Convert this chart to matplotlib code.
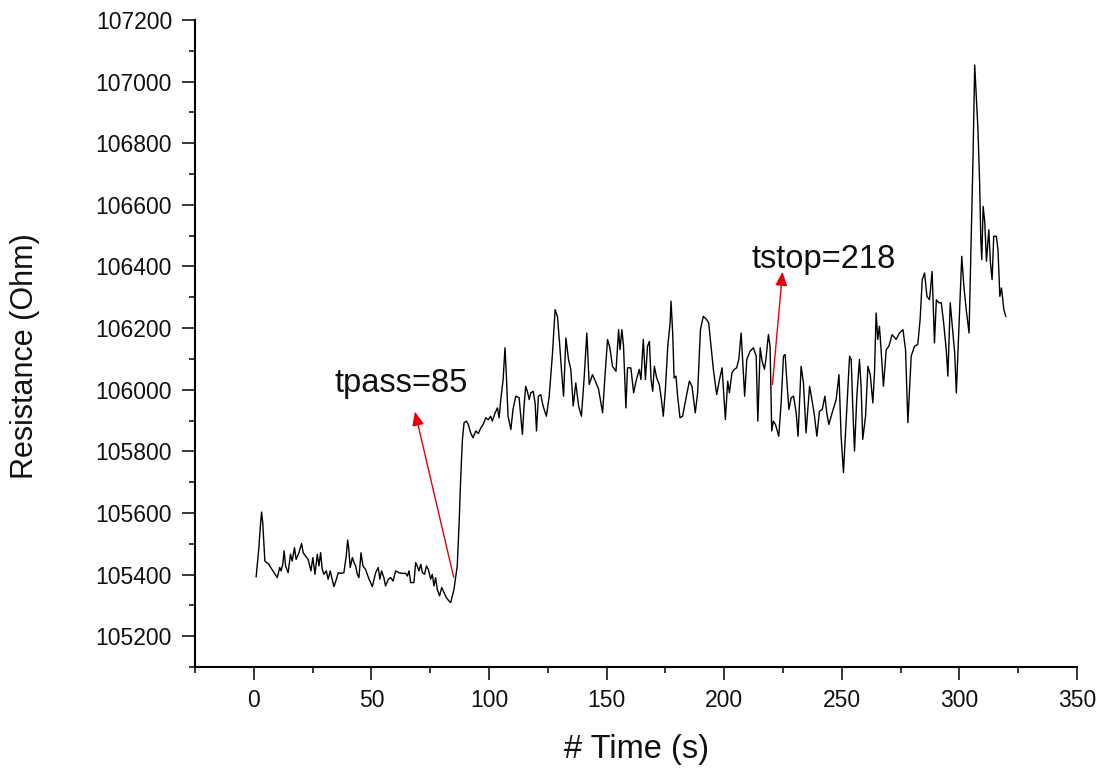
import matplotlib
matplotlib.use("Agg")
import matplotlib.pyplot as plt

plt.rcParams["font.family"] = ["Liberation Sans", "DejaVu Sans"]

# Resistance trace: time (s) and resistance (Ohm)
time_s = [
    1.0, 2.1, 2.8, 3.3, 3.8, 4.4, 4.7, 6.4, 8.1, 10.0, 11.0, 11.6, 12.3, 12.9, 13.5, 14.6,
    15.6, 16.3, 17.3, 18.0, 19.2, 20.3, 21.0, 22.0, 23.1, 24.3, 25.1, 26.0, 27.0, 27.7, 28.4,
    29.1, 29.8, 30.8, 31.6, 32.5, 33.3, 34.1, 35.1, 35.9, 36.9, 38.3, 39.3, 39.9, 40.4, 41.0,
    41.9, 42.6, 43.3, 44.0, 44.7, 45.6, 46.4, 47.5, 49.0, 50.4, 51.8, 52.9, 53.6, 54.3, 55.3,
    56.0, 57.2, 58.2, 59.2, 60.3, 61.7, 63.1, 64.6, 65.3, 66.0, 66.7, 68.1, 68.8, 69.5, 70.2,
    71.0, 71.7, 72.6, 73.4, 74.2, 75.2, 75.9, 76.6, 77.3, 78.0, 79.0, 79.9, 80.9, 81.9, 83.0,
    83.7, 84.4,
    85.1, 86.5, 87.3, 88.0, 88.7, 89.4, 90.4, 91.2, 92.2, 93.2, 94.4, 95.5, 96.5, 97.5, 98.6,
    99.7, 100.7, 101.4, 102.6, 103.6, 104.3, 105.0, 106.0, 106.8, 107.4, 108.1, 109.3, 110.2,
    111.4, 112.8, 114.2, 114.9, 115.6, 116.3, 117.1, 117.8, 118.8, 119.6, 120.2, 121.0, 122.0,
    123.0, 124.4, 125.6, 127.0, 128.1, 129.1, 130.1, 131.0, 131.7, 132.7, 133.8, 134.8, 135.8,
    136.9, 138.1, 139.3, 140.5, 141.6, 142.6, 144.0, 145.2, 146.6, 148.3, 149.4, 150.4, 151.4,
    152.5, 154.0, 155.1, 155.7, 156.5, 157.2, 158.2, 158.9, 160.3, 161.5, 162.5,
    163.9, 164.6, 165.6, 166.5, 167.4, 168.2, 168.9, 169.6, 170.3, 171.3, 172.4, 173.3, 174.1,
    175.0, 176.0, 177.0, 177.4, 178.1, 178.7, 179.5, 180.2, 181.2, 182.3, 183.8, 185.2, 186.3,
    187.7, 188.7, 189.9, 191.1, 192.3, 193.4, 194.4, 195.4, 196.8, 198.0, 199.1, 199.7, 200.5,
    201.5, 202.2, 203.3, 204.3, 205.3, 206.2, 207.2, 207.9, 208.7, 209.6, 211.0, 212.4, 213.6,
    214.3, 215.3, 216.1, 217.1, 217.8, 218.8, 219.5, 220.2, 220.9, 221.8, 223.2, 224.2, 225.2,
    225.9, 226.6, 227.5, 228.5, 229.5, 230.6, 231.4, 232.7, 233.7, 234.8, 236.3, 237.4, 238.4,
    239.4, 240.5, 241.7, 242.8, 243.6, 244.5, 245.9, 247.6, 248.8, 249.7,
    250.7, 251.8, 253.3, 254.0, 254.7, 255.4, 256.4, 257.5, 258.2, 258.9, 260.1, 261.1, 262.1,
    263.2, 263.9, 264.6, 265.3, 266.0, 266.7, 267.7, 268.9, 270.0, 271.4, 273.1, 274.5, 276.0,
    277.1, 278.1, 279.5, 280.9, 282.3, 283.3, 284.2, 285.2, 286.2, 287.3, 288.4, 289.4, 290.2,
    291.3, 292.3, 293.3, 294.4, 295.1, 296.1, 297.0, 298.0, 298.7, 300.1, 301.0, 301.9, 302.9,
    304.1,
    305.1, 305.8, 306.5, 307.2, 307.9, 308.6, 309.1, 309.5, 310.1, 310.8, 311.5, 312.5, 313.2,
    313.9, 314.6, 315.7, 316.4, 317.2, 317.9, 318.9, 319.7,
]
resistance_ohm = [
    105393, 105482, 105558, 105603, 105568, 105482, 105444, 105433, 105412, 105390, 105423,
    105412, 105433, 105477, 105428, 105406, 105466, 105444, 105487, 105449, 105471, 105501,
    105471, 105460, 105449, 105412, 105455, 105401, 105466, 105428, 105471, 105417, 105401,
    105412, 105385, 105412, 105385, 105361, 105385, 105406, 105404, 105406, 105460, 105512,
    105482, 105423, 105455, 105439, 105428, 105401, 105390, 105471, 105428, 105417, 105385,
    105361, 105406, 105423, 105385, 105412, 105390, 105363, 105385, 105390, 105379, 105412,
    105406, 105404, 105404, 105395, 105412, 105374, 105374, 105439, 105428, 105412, 105433,
    105406, 105401, 105428, 105417, 105385, 105401, 105363, 105390, 105352, 105331, 105358,
    105341, 105325, 105314, 105309, 105331,
    105352, 105428, 105568, 105720, 105839, 105893, 105898, 105887, 105860, 105844, 105866,
    105858, 105876, 105887, 105909, 105903, 105914, 105898, 105925, 105941, 105909, 105968,
    106033, 106136, 106044, 105914, 105871, 105936, 105979, 105974, 105855, 105947, 106011,
    105995, 105968, 105990, 105995, 105957, 105866, 105979, 105984, 105947, 105914, 105979,
    106119, 106260, 106238, 106141, 106044, 105979, 106168, 106098, 106065, 105947, 106022,
    105947, 105914, 106044, 106184, 106017, 106049, 106028, 106001, 105925, 106055, 106163,
    106136, 106076, 106060, 106195, 106130, 106195, 106141, 105941, 106071, 106071, 105990,
    106028,
    106066, 106033, 106163, 106033, 106141, 106157, 106033, 105995, 106076, 106038, 106017,
    105968, 105914, 106001, 106141, 106217, 106287, 106184, 106038, 106044, 105979, 105909,
    105914, 105974, 106028, 106011, 105925, 105990, 106195, 106238, 106230, 106217, 106141,
    106066, 105984, 106033, 106071, 106001, 105903, 106028, 105990, 106055, 106066, 106071,
    106098, 106184, 106087, 105979, 106098, 106125, 106136, 106109, 105898, 106136, 106093,
    106066, 106103, 106179, 106141, 105866, 105898, 105887, 105849, 105957, 106109, 106114,
    106033, 105936, 105974, 105979, 105925, 105849, 106076, 106022, 105860, 106011, 105963,
    105914, 105849, 105930, 105936, 105979, 105925, 105887, 105925, 105968, 106049, 105849,
    105731, 105893, 106109, 106098, 105936, 105801, 105979, 106098, 106011, 105839, 105914,
    106076, 106049, 105957, 106055, 106249, 106163, 106206, 106130, 106011, 106130, 106141,
    106179, 106163, 106184, 106195, 106130, 105893, 106109, 106141, 106147, 106228, 106357,
    106379, 106303, 106292, 106384, 106152, 106292, 106282, 106282, 106217, 106130, 106044,
    106282, 106206, 106119, 105990, 106260, 106433, 106336, 106260, 106184,
    106519, 106757, 107054, 106951, 106843, 106671, 106487, 106422, 106595, 106541, 106417,
    106519, 106411, 106357, 106498, 106498, 106455, 106303, 106330, 106260, 106238,
]

# Event times marked on the trace
t_pass = 85
t_stop = 218

x_ticks = [0, 50, 100, 150, 200, 250, 300, 350]
y_ticks = [105200, 105400, 105600, 105800, 106000, 106200, 106400, 106600, 106800, 107000, 107200]

text_color = "#111111"

fig = plt.figure(figsize=(11.1, 7.71), dpi=100)
ax = fig.add_axes([195 / 1110, 104 / 771, 882 / 1110, 647 / 771])

ax.plot(time_s, resistance_ohm, color="black", lw=1.0)

ax.set_xlim(-25, 350)
ax.set_ylim(105100, 107200)
ax.set_xticks(x_ticks, [str(v) for v in x_ticks])
ax.set_yticks(y_ticks, [str(v) for v in y_ticks])
ax.set_xticks([v for v in range(-25, 351, 25)], minor=True)
ax.set_yticks([v for v in range(105100, 107201, 100)], minor=True)

for side in ("top", "right"):
    ax.spines[side].set_visible(False)
for side in ("left", "bottom"):
    ax.spines[side].set_linewidth(1.5)

ax.tick_params(which="major", direction="out", length=9.5, width=1.1,
               labelsize=16.5, labelcolor=text_color, pad=6)
ax.tick_params(which="minor", direction="out", length=4.5, width=1.1)
ax.tick_params(axis="y", which="major", pad=7)

ax.set_xlabel("# Time (s)", fontsize=23.5, color=text_color)
ax.set_ylabel("Resistance (Ohm)", fontsize=22, color=text_color)
ax.xaxis.set_label_coords(0.501, -0.103)
ax.yaxis.set_label_coords(-0.176, 0.48)

# Event annotations
arrow_style = dict(arrowstyle="-|>,head_length=0.7,head_width=0.3", color="#e8000b",
                   lw=1.0, mutation_scale=12, shrinkA=0, shrinkB=0)
ax.annotate("", xy=(68.5, 105929), xytext=(t_pass, 105391), arrowprops=arrow_style)
ax.annotate("", xy=(224.8, 106383), xytext=(t_stop + 2.5, 106017), arrowprops=arrow_style)
ax.text(34.1, 105994, f"tpass={t_pass}", fontsize=23.5, color=text_color, va="baseline")
ax.text(211.6, 106396, f"tstop={t_stop}", fontsize=23.5, color=text_color, va="baseline")

fig.savefig("out.png", dpi=100)
